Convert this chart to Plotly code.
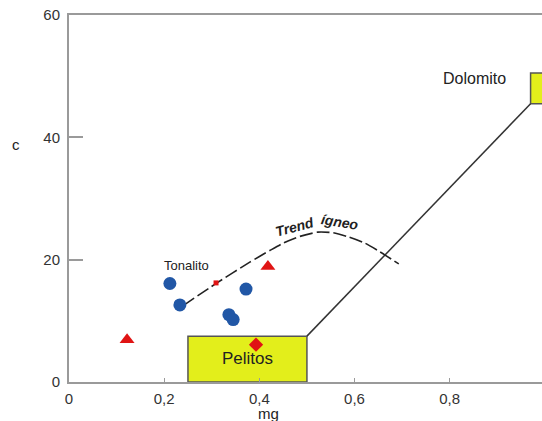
import plotly.graph_objects as go

# Data
tonalito_mg = [0.212, 0.233, 0.372, 0.336, 0.345]
tonalito_c = [16.1, 12.6, 15.2, 11.0, 10.2]
tri_mg = [0.122, 0.418]
tri_c = [6.9, 18.9]
pel_pt_mg = [0.393]
pel_pt_c = [6.1]
small_mg = [0.309]
small_c = [16.2]
trend_mg = [0.24, 0.311, 0.380, 0.422, 0.450, 0.485, 0.523, 0.555, 0.584, 0.622, 0.653, 0.693]
trend_c = [12.5, 16.2, 19.6, 21.5, 22.7, 23.8, 24.5, 24.4, 23.8, 22.7, 21.3, 19.3]
mix_mg = [0.5, 0.97]
mix_c = [7.5, 45.5]
pelitos_box = (0.25, 0.5, 0.0, 7.5)
dolomito_box = (0.97, 1.06, 45.5, 50.5)

FONT = "Liberation Sans, Arial, sans-serif"
GRAY = "#9a9a9a"

fig = go.Figure()

fig.add_shape(type="rect", x0=pelitos_box[0], x1=pelitos_box[1], y0=pelitos_box[2], y1=pelitos_box[3],
              fillcolor="#e3ee1b", line=dict(color="#555", width=1.5), layer="below")
fig.add_shape(type="rect", x0=dolomito_box[0], x1=dolomito_box[1], y0=dolomito_box[2], y1=dolomito_box[3],
              fillcolor="#e3ee1b", line=dict(color="#555", width=1.5), layer="below")

fig.add_trace(go.Scatter(x=mix_mg, y=mix_c, mode="lines",
                         line=dict(color="#333", width=1.5), showlegend=False))
fig.add_trace(go.Scatter(x=trend_mg, y=trend_c, mode="lines",
                         line=dict(color="#222", width=1.6, dash="13px,4px", shape="spline", smoothing=0.6),
                         showlegend=False))
fig.add_trace(go.Scatter(x=tonalito_mg, y=tonalito_c, mode="markers",
                         marker=dict(symbol="circle", size=13, color="#2157a6"), showlegend=False))
fig.add_trace(go.Scatter(x=tri_mg, y=tri_c, mode="markers",
                         marker=dict(symbol="triangle-up", size=13, color="#e01414"), showlegend=False))
fig.add_trace(go.Scatter(x=pel_pt_mg, y=pel_pt_c, mode="markers",
                         marker=dict(symbol="diamond", size=11, color="#e01414"), showlegend=False))
fig.add_trace(go.Scatter(x=small_mg, y=small_c, mode="markers",
                         marker=dict(symbol="square", size=5, color="#e01414"), showlegend=False))

ann = [
    dict(x=0.246, y=19.0, text="Tonalito", font=dict(size=13, color="#222", family=FONT)),
    dict(x=0.376, y=3.9, text="Pelitos", font=dict(size=17, color="#222", family=FONT)),
    dict(x=0.853, y=49.7, text="Dolomito", font=dict(size=16, color="#222", family=FONT)),
    dict(x=0.473, y=25.4, text="<b><i>Trend</i></b>", textangle=-15,
         font=dict(size=14, color="#222", family=FONT)),
    dict(x=0.569, y=26.2, text="<b><i>ígneo</i></b>", textangle=9,
         font=dict(size=14, color="#222", family=FONT)),
]
for a in ann:
    fig.add_annotation(xref="x", yref="y", showarrow=False, **a)

fig.add_annotation(xref="paper", yref="paper", x=0.421, y=-0.087, text="mg", showarrow=False,
                   xanchor="center", yanchor="middle",
                   font=dict(size=15, color="#222", family=FONT))
fig.add_annotation(xref="paper", yref="paper", x=-0.112, y=0.646, text="c", showarrow=False,
                   xanchor="center", yanchor="middle",
                   font=dict(size=15, color="#222", family=FONT))

fig.update_layout(
    width=542, height=421,
    margin=dict(l=69, r=0, t=15, b=39),
    paper_bgcolor="white", plot_bgcolor="white",
    separators=",.",
    font=dict(family=FONT, color="#333"),
    xaxis=dict(range=[0, 0.994], tickvals=[0, 0.2, 0.4, 0.6, 0.8],
               showgrid=False, zeroline=False, showline=True, linecolor=GRAY, linewidth=2,
               mirror=True, ticks="inside", ticklen=4, tickcolor=GRAY, tickwidth=1,
               ticklabelstandoff=2,
               tickfont=dict(size=15, color="#333", family=FONT)),
    yaxis=dict(range=[0, 60], tickvals=[0, 20, 40, 60],
               showgrid=False, zeroline=False, showline=True, linecolor=GRAY, linewidth=2,
               mirror=False, ticks="inside", ticklen=14, tickcolor=GRAY, tickwidth=1.5,
               ticklabelstandoff=4,
               tickfont=dict(size=15, color="#333", family=FONT)),
)

fig.write_html("out.html")
